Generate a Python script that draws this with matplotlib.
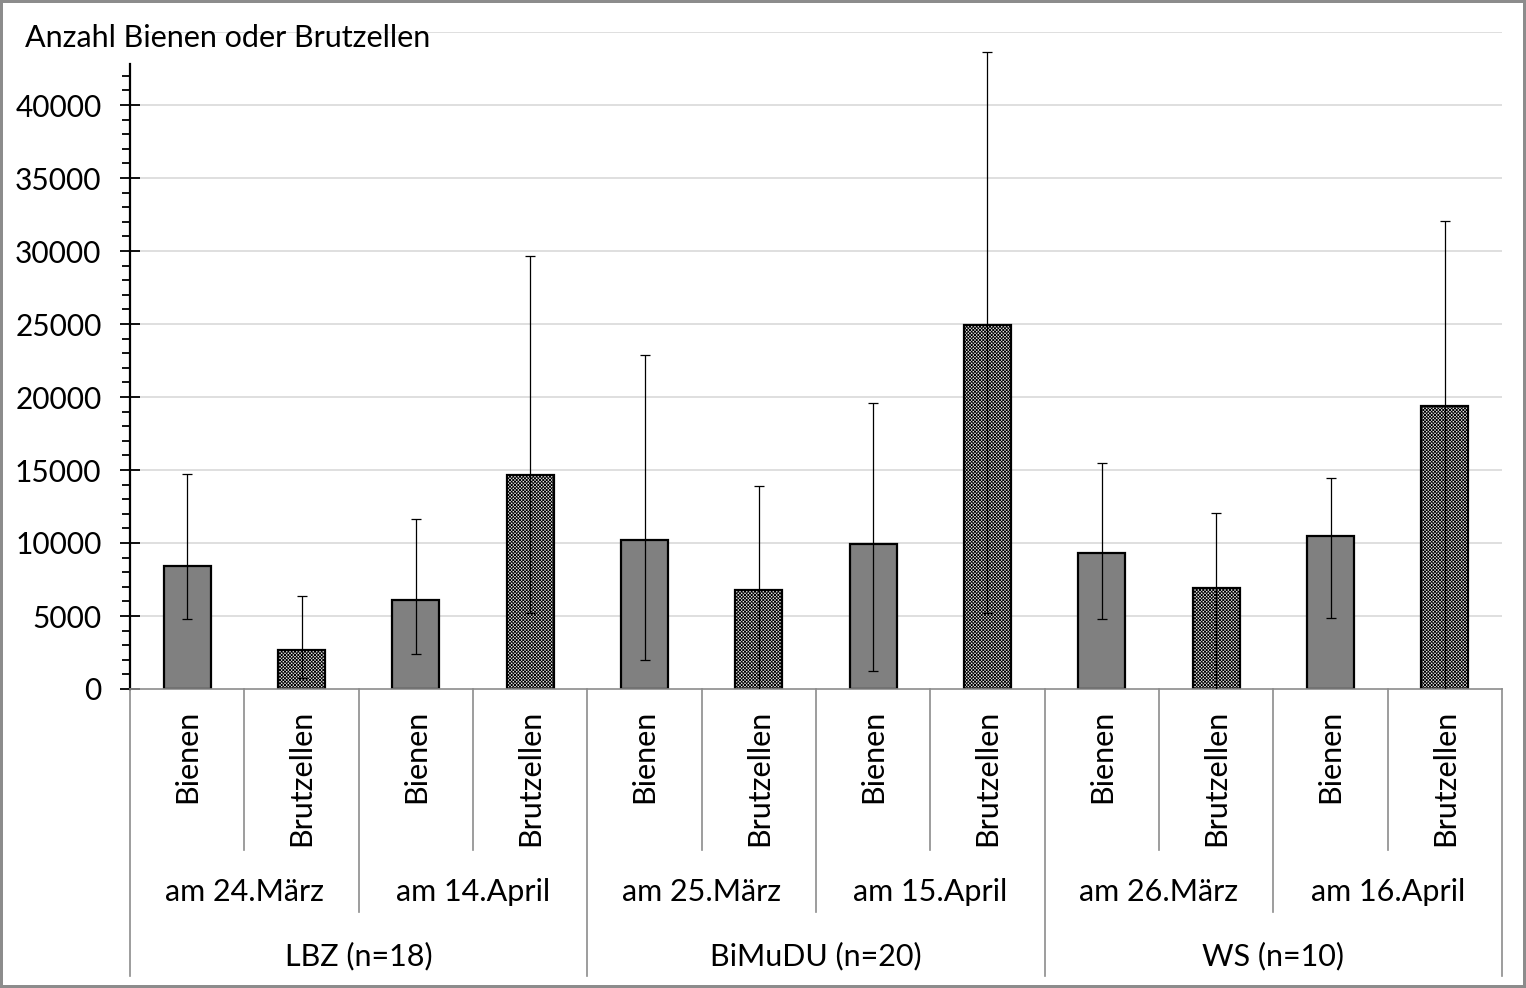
import numpy as np
import matplotlib.pyplot as plt
from matplotlib.lines import Line2D
from matplotlib.ticker import FixedLocator

plt.rcParams['font.family'] = ['Lato', 'DejaVu Sans']
plt.rcParams['hatch.linewidth'] = 0.6
plt.rcParams['hatch.color'] = '#858585'

# Daten
kinds = ['Bienen', 'Brutzellen'] * 6
dates = ['am 24.März', 'am 14.April', 'am 25.März', 'am 15.April', 'am 26.März', 'am 16.April']
groups = ['LBZ (n=18)', 'BiMuDU (n=20)', 'WS (n=10)']
values = [8450, 2670, 6100, 14660, 10200, 6800, 9950, 24930, 9340, 6940, 10480, 19380]
err_high = [14700, 6390, 11620, 29660, 22850, 13880, 19570, 43630, 15460, 12030, 14430, 32030]
err_low = [4770, 780, 2370, 5180, 1960, -300, 1210, 5180, 4770, -300, 4840, -300]
y_ticks = [0, 5000, 10000, 15000, 20000, 25000, 30000, 35000, 40000]

W, H = 1526, 988
FS = 22
fig = plt.figure(figsize=(W / 100, H / 100), dpi=100)
fig.patch.set_edgecolor('#8c8c8c')
fig.patch.set_linewidth(3)

ax = fig.add_axes([130 / W, (H - 689) / H, (1502 - 130) / W, (689 - 32) / H])

x = np.arange(len(values))
vals = np.array(values)
face = ['#808080' if k == 'Bienen' else '#e8e8e8' for k in kinds]
hatch = [None if k == 'Bienen' else 'xxxxxxxxxx' for k in kinds]
bars = ax.bar(x, vals, width=0.41, color=face, edgecolor='black', linewidth=1.6, zorder=2)
for b, h in zip(bars, hatch):
    if h:
        b.set_hatch(h)

yerr = [vals - np.array(err_low), np.array(err_high) - vals]
ax.errorbar(x, vals, yerr=yerr, fmt='none', ecolor='black', elinewidth=0.9,
            capsize=3.5, capthick=0.9, zorder=3)

ax.set_xlim(-0.5, len(values) - 0.5)
ax.set_ylim(0, 45000)
for g in range(5000, 45001, 5000):
    ax.axhline(g, color='#d9d9d9', linewidth=1.2, zorder=0)

ax.yaxis.set_major_locator(FixedLocator(y_ticks))
ax.yaxis.set_minor_locator(FixedLocator(range(0, 43000, 1000)))
ax.set_yticklabels([str(t) for t in y_ticks], fontsize=FS - 0.5)
ax.tick_params(axis='y', which='major', direction='inout', length=15, width=1.3, pad=13)
ax.tick_params(axis='y', which='minor', direction='out', length=6, width=1.3)
ax.set_xticks([])

for s in ['top', 'right']:
    ax.spines[s].set_visible(False)
ax.spines['left'].set_bounds(0, 42800)
ax.spines['left'].set_linewidth(1.6)
ax.spines['bottom'].set_color('#8c8c8c')
ax.spines['bottom'].set_linewidth(1.2)

# mehrstufige Kategorienachse
tr = ax.get_xaxis_transform()
ph = 689 - 32
def yfrac(py):
    return (689 - py) / ph

for i in range(len(values) + 1):
    bx = i - 0.5
    if i % 4 == 0:
        yb = 976
    elif i % 2 == 0:
        yb = 912
    else:
        yb = 850
    ax.add_line(Line2D([bx, bx], [0, yfrac(yb)], transform=tr, color='#8c8c8c',
                       linewidth=1.2, clip_on=False))

for i, k in enumerate(kinds):
    ax.text(i, yfrac(710), k, transform=tr, rotation=90, ha='center', va='top', fontsize=FS)
for j, d in enumerate(dates):
    ax.text(2 * j + 0.5, yfrac(892), d, transform=tr, ha='center', va='center', fontsize=FS)
for j, g in enumerate(groups):
    ax.text(4 * j + 1.5, yfrac(956), g, transform=tr, ha='center', va='center', fontsize=FS)

fig.text(25 / W, 1 - 38 / H, 'Anzahl Bienen oder Brutzellen', ha='left', va='center', fontsize=FS)

fig.savefig('out.png', dpi=100)
